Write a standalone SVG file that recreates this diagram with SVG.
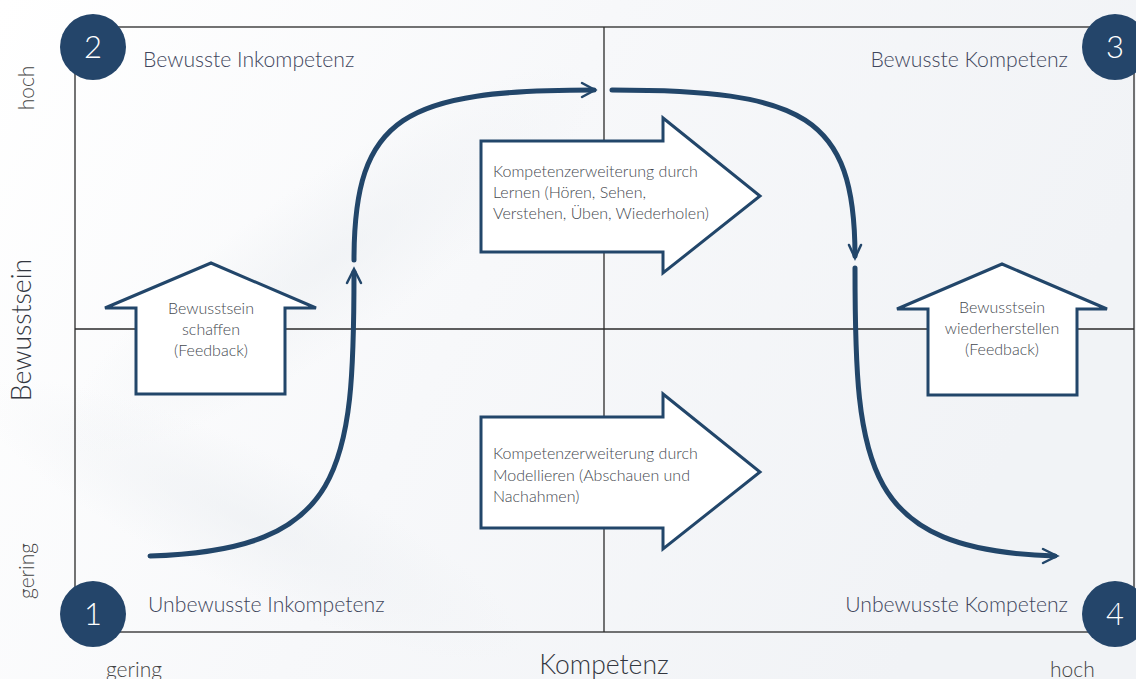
<svg xmlns="http://www.w3.org/2000/svg" width="1136" height="679" viewBox="0 0 1136 679">
<defs>
<linearGradient id="bg" x1="0" y1="0" x2="1" y2="0.3">
<stop offset="0" stop-color="#ffffff"/>
<stop offset="0.5" stop-color="#f7f8fa"/>
<stop offset="1" stop-color="#f1f3f6"/>
</linearGradient>
<radialGradient id="sw" cx="0.5" cy="0.5" r="0.5">
<stop offset="0" stop-color="#eceff2" stop-opacity="0.6"/>
<stop offset="1" stop-color="#eceff2" stop-opacity="0"/>
</radialGradient>
<style>
.frame{fill:none;stroke:#2a2a2a;stroke-width:1.3}
.shape{fill:#ffffff;stroke:#22466a;stroke-width:3;stroke-linejoin:miter}
.curve{fill:none;stroke:#22466a;stroke-width:5;stroke-linecap:round}
.head{fill:none;stroke:#22466a;stroke-width:2.5;stroke-linecap:round;stroke-linejoin:miter}
.num{fill:#24456a}
.numt{font-family:Lato,"Liberation Sans",sans-serif;font-weight:300;font-size:31px;fill:#ffffff;text-anchor:middle}
.ql{font-family:Lato,"Liberation Sans",sans-serif;font-weight:300;font-size:21.2px;fill:#3f465c}
.bt{font-family:Lato,"Liberation Sans",sans-serif;font-weight:300;font-size:16px;fill:#45494f}
.ax{font-family:Lato,"Liberation Sans",sans-serif;font-weight:300;font-size:21px;fill:#444444}
.axb{font-family:Lato,"Liberation Sans",sans-serif;font-weight:300;font-size:26.5px;fill:#33373f}
</style>
</defs>
<rect x="0" y="0" width="1136" height="679" fill="url(#bg)"/>
<ellipse cx="330" cy="260" rx="320" ry="80" fill="url(#sw)" transform="rotate(-35 330 260)"/>
<ellipse cx="250" cy="520" rx="300" ry="70" fill="url(#sw)" transform="rotate(25 250 520)"/>

<g id="frame">
<rect class="frame" x="75" y="27" width="1059" height="605"/>
<line class="frame" x1="75" y1="329" x2="1134" y2="329"/>
<line class="frame" x1="604" y1="27" x2="604" y2="632"/>
</g>

<g id="connectors">
<path class="curve" d="M150,556 C345,550 354,470 354,272"/>
<polyline class="head" points="347,283 354,269 361,283"/>
<path class="curve" d="M354,260 C354,115 405,90 594,90"/>
<polyline class="head" points="582,83 595,90 582,97"/>
<path class="curve" d="M612,90 C803,90 855,115 855,256"/>
<polyline class="head" points="849,245 855,258 861,245"/>
<path class="curve" d="M855,268 C855,470 864,550 1055,556"/>
<polyline class="head" points="1043,549 1057,556 1043,563"/>
</g>

<g id="node-feedback1">
<polygon class="shape" points="211,263 316,308 285,308 285,394 136,394 136,308 105,308"/>
<text class="bt" text-anchor="middle"><tspan x="211" y="314">Bewusstsein</tspan><tspan x="211" y="335">schaffen</tspan><tspan x="211" y="356">(Feedback)</tspan></text>
</g>

<g id="node-feedback2">
<polygon class="shape" points="1002,264 1107,309 1077,309 1077,395 928,395 928,309 897,309"/>
<text class="bt" text-anchor="middle"><tspan x="1002" y="313">Bewusstsein</tspan><tspan x="1002" y="334">wiederherstellen</tspan><tspan x="1002" y="355">(Feedback)</tspan></text>
</g>

<g id="node-lernen">
<polygon class="shape" points="481,141 663,141 663,118 760,196 663,273 663,252 481,252"/>
<text class="bt"><tspan x="493" y="177">Kompetenzerweiterung durch</tspan><tspan x="493" y="198">Lernen (Hören, Sehen,</tspan><tspan x="493" y="219">Verstehen, Üben, Wiederholen)</tspan></text>
</g>

<g id="node-modellieren">
<polygon class="shape" points="481,417 663,417 663,394 760,472 663,549 663,528 481,528"/>
<text class="bt"><tspan x="493" y="459">Kompetenzerweiterung durch</tspan><tspan x="493" y="481">Modellieren (Abschauen und</tspan><tspan x="493" y="502">Nachahmen)</tspan></text>
</g>

<g id="node-q2">
<circle class="num" cx="93" cy="47" r="33"/>
<text class="numt" x="93" y="58">2</text>
<text class="ql" x="143" y="67">Bewusste Inkompetenz</text>
</g>
<g id="node-q3">
<circle class="num" cx="1115" cy="47" r="33"/>
<text class="numt" x="1115" y="58">3</text>
<text class="ql" x="1068" y="67" text-anchor="end">Bewusste Kompetenz</text>
</g>
<g id="node-q1">
<circle class="num" cx="93" cy="614" r="33"/>
<text class="numt" x="93" y="625">1</text>
<text class="ql" x="148" y="612">Unbewusste Inkompetenz</text>
</g>
<g id="node-q4">
<circle class="num" cx="1115" cy="614" r="33"/>
<text class="numt" x="1115" y="625">4</text>
<text class="ql" x="1068" y="612" text-anchor="end">Unbewusste Kompetenz</text>
</g>

<g id="axes">
<text class="ax" text-anchor="middle" transform="translate(34,88) rotate(-90)">hoch</text>
<text class="ax" text-anchor="middle" transform="translate(34,571) rotate(-90)">gering</text>
<text class="axb" text-anchor="middle" transform="translate(31,330) rotate(-90)">Bewusstsein</text>
<text class="ax" x="106" y="677">gering</text>
<text class="axb" x="604" y="674" text-anchor="middle">Kompetenz</text>
<text class="ax" x="1050" y="677">hoch</text>
</g>
</svg>
